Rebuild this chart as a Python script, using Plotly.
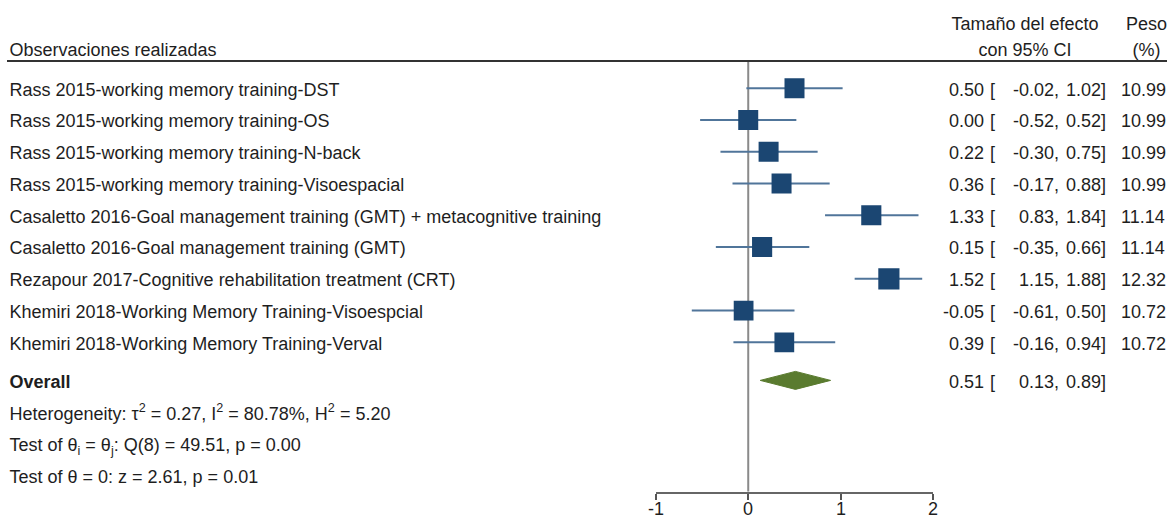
import plotly.graph_objects as go

# ---- data -------------------------------------------------------------
studies = [
    "Rass 2015-working memory training-DST",
    "Rass 2015-working memory training-OS",
    "Rass 2015-working memory training-N-back",
    "Rass 2015-working memory training-Visoespacial",
    "Casaletto 2016-Goal management training (GMT) + metacognitive training",
    "Casaletto 2016-Goal management training (GMT)",
    "Rezapour 2017-Cognitive rehabilitation treatment (CRT)",
    "Khemiri 2018-Working Memory Training-Visoespcial",
    "Khemiri 2018-Working Memory Training-Verval",
]
effect = [0.50, 0.00, 0.22, 0.36, 1.33, 0.15, 1.52, -0.05, 0.39]
ci_low = [-0.02, -0.52, -0.30, -0.17, 0.83, -0.35, 1.15, -0.61, -0.16]
ci_high = [1.02, 0.52, 0.75, 0.88, 1.84, 0.66, 1.88, 0.50, 0.94]
weight = [10.99, 10.99, 10.99, 10.99, 11.14, 11.14, 12.32, 10.72, 10.72]

overall_effect = 0.51
overall_low = 0.13
overall_high = 0.89

stats_lines = [
    "Heterogeneity: \u03c4<sup>2</sup> = 0.27, I<sup>2</sup> = 80.78%, H<sup>2</sup> = 5.20",
    "Test of \u03b8<sub>i</sub> = \u03b8<sub>j</sub>: Q(8) = 49.51, p = 0.00",
    "Test of \u03b8 = 0: z = 2.61, p = 0.01",
]
x_ticks = [-1, 0, 1, 2]

# ---- geometry (pixels) --------------------------------------------------
W, H = 1167, 520
FIRST_ROW_PX = 88.3
ROW_PX = 31.75
AXIS_PX = 491.7
TICK_LABEL_PX = 509
X_LEFT_PX, X_RIGHT_PX = 655.7, 933.3
OVERALL_GAP = 0.2
TEXT_DY_PX = 2.9          # plotly centres text a little high; push it down

FONT = "Liberation Sans, Arial, sans-serif"
FS = 18
TXT = "#1e1e1e"
SQUARE = "#1b4672"
CI_COL = "#50759a"
DIAMOND = "#5a7b2f"


def row_at(px):
    return (px - FIRST_ROW_PX) / ROW_PX


n = len(studies)
rows = list(range(n))
overall_row = n + OVERALL_GAP
stats_rows = [overall_row + 1 + k for k in range(len(stats_lines))]
dy = TEXT_DY_PX / ROW_PX

fig = go.Figure()

# ---- text columns, drawn on a full-width pixel-scaled axis (x2) ---------
text_font = dict(family=FONT, size=FS, color=TXT)


def text_col(x_px, ys, texts, side):
    pos = {"left": "middle right", "right": "middle left", "center": "middle center"}[side]
    fig.add_trace(go.Scatter(
        x=[x_px] * len(ys), y=[y + dy for y in ys], text=texts, mode="text",
        textposition=pos, textfont=text_font, marker=dict(size=0),
        xaxis="x2", yaxis="y",
        hoverinfo="skip", showlegend=False, cliponaxis=False,
    ))


fmt = lambda v: f"{v:.2f}"

all_rows = rows + [overall_row]
est_all = effect + [overall_effect]
lo_all = ci_low + [overall_low]
hi_all = ci_high + [overall_high]

# left-hand labels
text_col(9.5, rows + stats_rows, studies + stats_lines, "left")
text_col(9.5, [overall_row], ["<b>Overall</b>"], "left")

# effect size [lower, upper] and weight
text_col(984, all_rows, [fmt(v) for v in est_all], "right")
text_col(990, all_rows, ["["] * len(all_rows), "left")
text_col(1059, all_rows, [fmt(v) + "," for v in lo_all], "right")
text_col(1106, all_rows, [fmt(v) + "]" for v in hi_all], "right")
text_col(1121, rows, [fmt(w) for w in weight], "left")

# column headers
head_top, head_bot = row_at(22.7), row_at(49.0)
text_col(9.5, [head_bot], ["Observaciones realizadas"], "left")
text_col(1025, [head_top, head_bot], ["Tamaño del efecto", "con 95% CI"], "center")
text_col(1146.5, [head_top, head_bot], ["Peso", "(%)"], "center")

# x-axis tick labels as annotations so they sit fully inside the page
tick_annotations = [
    dict(xref="x", yref="paper", x=t, y=1 - TICK_LABEL_PX / H, text=str(t),
         showarrow=False, xanchor="center", yanchor="middle",
         borderpad=0, borderwidth=0, font=text_font)
    for t in x_ticks
]

# ---- forest marks on the effect-size axis (x) ---------------------------
fig.add_trace(go.Scatter(
    x=effect, y=rows, mode="markers",
    marker=dict(symbol="square", color=SQUARE, opacity=1,
                size=[20 * (w / 10.99) ** 0.5 for w in weight],
                line=dict(width=0)),
    error_x=dict(type="data", symmetric=False,
                 array=[h - e for h, e in zip(ci_high, effect)],
                 arrayminus=[e - l for e, l in zip(effect, ci_low)],
                 thickness=2, width=0, color=CI_COL),
    hoverinfo="skip", showlegend=False, xaxis="x", yaxis="y",
))

half_h = 9 / ROW_PX
fig.add_trace(go.Scatter(
    x=[overall_low, overall_effect, overall_high, overall_effect, overall_low],
    y=[overall_row, overall_row - half_h, overall_row, overall_row + half_h, overall_row],
    mode="lines", fill="toself", fillcolor=DIAMOND,
    line=dict(color=DIAMOND, width=1),
    hoverinfo="skip", showlegend=False, xaxis="x", yaxis="y",
))

shapes = [
    # header rule
    dict(type="line", xref="x2", yref="y", x0=7, x1=W,
         y0=row_at(61), y1=row_at(61), line=dict(color="#333333", width=2)),
    # line of no effect
    dict(type="line", xref="x", yref="y", x0=0, x1=0,
         y0=row_at(62), y1=row_at(AXIS_PX), line=dict(color="#8a8a8a", width=2),
         layer="below"),
]

fig.update_layout(
    width=W, height=H,
    margin=dict(l=0, r=0, t=0, b=0, autoexpand=False),
    paper_bgcolor="white", plot_bgcolor="rgba(0,0,0,0)",
    shapes=shapes, annotations=tick_annotations,
    xaxis=dict(
        domain=[X_LEFT_PX / W, X_RIGHT_PX / W], range=[x_ticks[0], x_ticks[-1]],
        anchor="y", automargin=False,
        showgrid=False, zeroline=False, showline=True,
        linecolor="#666666", linewidth=2,
        ticks="outside", ticklen=6, tickwidth=1.5, tickcolor="#555555",
        tickvals=x_ticks, showticklabels=False,
        fixedrange=True,
    ),
    xaxis2=dict(
        domain=[0, 1], range=[0, W], anchor="y", automargin=False,
        visible=False, showgrid=False, zeroline=False, fixedrange=True,
    ),
    yaxis=dict(
        domain=[(H - AXIS_PX) / H, 1.0],
        range=[row_at(AXIS_PX), row_at(0)], automargin=False,
        visible=False, showgrid=False, zeroline=False, fixedrange=True,
    ),
)

fig.write_html("out.html")
